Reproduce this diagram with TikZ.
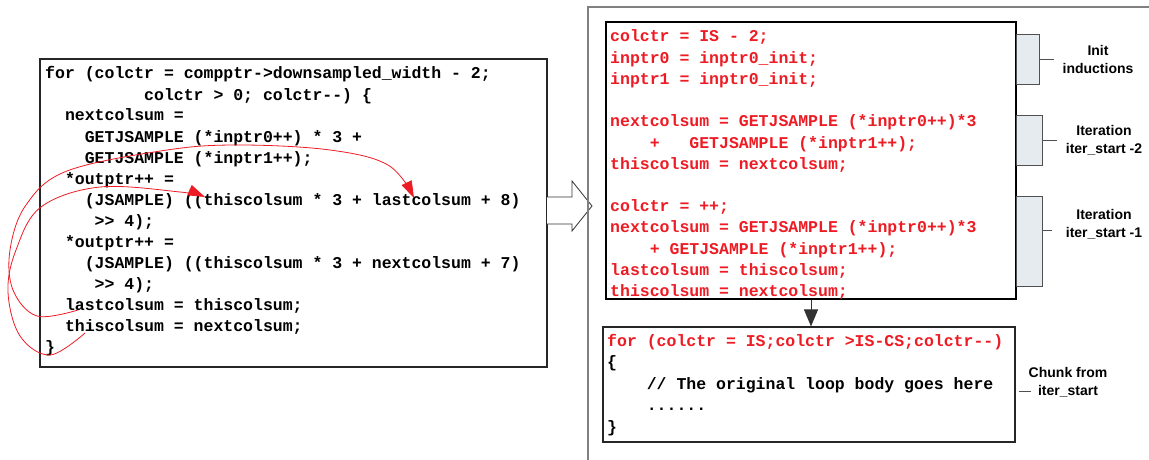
\documentclass[tikz,border=0pt]{standalone}
\usepackage{fontspec}
\setmonofont{Liberation Mono}
\setsansfont{Liberation Sans}
\usetikzlibrary{arrows.meta,calc}

\definecolor{codered}{RGB}{237,28,36}
\definecolor{framegray}{RGB}{128,128,128}
\definecolor{tabfill}{RGB}{230,235,239}
\definecolor{tabline}{RGB}{80,80,80}

\newcommand\codefont{\ttfamily\bfseries\fontsize{16.5}{21}\selectfont}
\newcommand\notefont{\sffamily\bfseries\fontsize{14}{18}\selectfont}

\begin{document}
\begin{tikzpicture}[x=1pt,y=-1pt,
  codeline/.style={anchor=base west, inner sep=0pt, font=\codefont, text=black},
  redline/.style={codeline, text=codered},
  box/.style={draw=black!85, line width=1.1pt, inner sep=0pt},
  tab/.style={draw=tabline, fill=tabfill, line width=0.9pt, inner sep=0pt},
  note/.style={font=\notefont, align=center, inner sep=2pt},
  tickmark/.style={draw=tabline, line width=0.9pt},
  loopback/.style={draw=codered, line width=0.8pt, -{Triangle[length=17pt,width=11pt]}},
]
\useasboundingbox (0,0) rectangle (1149,460);

% ---- original loop -------------------------------------------------
\node[box, minimum width=507pt, minimum height=308pt] (src) at (293.5,213) {};
\node[codeline] (s1)  at (45,79)  {for (colctr = compptr->downsampled\_width - 2;};
\node[codeline] (s2)  at (45,100) {~~~~~~~~~~colctr > 0; colctr-{}-) \{};
\node[codeline] (s3)  at (45,121) {~~nextcolsum =};
\node[codeline] (s4)  at (45,142) {~~~~GETJSAMPLE (*inptr0++) * 3 +};
\node[codeline] (s5)  at (45,163) {~~~~GETJSAMPLE (*inptr1++);};
\node[codeline] (s6)  at (45,184) {~~*outptr++ =};
\node[codeline] (s7)  at (45,205) {~~~~(JSAMPLE) ((thiscolsum * 3 + lastcolsum + 8)};
\node[codeline] (s8)  at (45,226) {~~~~~>{}> 4);};
\node[codeline] (s9)  at (45,247) {~~*outptr++ =};
\node[codeline] (s10) at (45,268) {~~~~(JSAMPLE) ((thiscolsum * 3 + nextcolsum + 7)};
\node[codeline] (s11) at (45,289) {~~~~~>{}> 4);};
\node[codeline] (s12) at (45,310) {~~lastcolsum = thiscolsum;};
\node[codeline] (s13) at (45,331) {~~thiscolsum = nextcolsum;};
\node[codeline] (s14) at (45,352) {\}};

% loop-carried value flow
\coordinate (lastSrc) at (78,310);
\coordinate (lastDst) at (414,198);
\coordinate (thisSrc) at (85,333);
\coordinate (thisDst) at (205,197);
\draw[loopback] plot[smooth, tension=0.6] coordinates
  {(lastSrc) (37,316) (13,290) (10,250) (26,205) (67,171) (167,150) (240,145) (330,150) (388,165) (lastDst)};
\draw[loopback] plot[smooth, tension=0.6] coordinates
  {(thisSrc) (50,355) (20,336) (8,292) (16,250) (41,207) (100,187) (180,192) (thisDst)};

% ---- transformation arrow ------------------------------------------
\draw[draw=black!80, fill=white, line width=0.8pt]
  (547,197) -- (572,197) -- (572,181) -- (592,206) -- (572,231) -- (572,224) -- (547,224);

% ---- transformed chunk ---------------------------------------------
\draw[framegray, line width=1.5pt] (588,460) -- (588,7) -- (1149,7);

\node[box, draw=black, minimum width=410pt, minimum height=277pt] (pro) at (811,160.5) {};
\node[redline] (p1)  at (610,42)    {colctr = IS - 2;};
\node[redline] (p2)  at (610,63.2)  {inptr0 = inptr0\_init;};
\node[redline] (p3)  at (610,84.4)  {inptr1 = inptr0\_init;};
\node[redline] (p4)  at (610,126.8) {nextcolsum = GETJSAMPLE (*inptr0++)*3};
\node[redline] (p5)  at (610,148)   {~~~~+~~~GETJSAMPLE (*inptr1++);};
\node[redline] (p6)  at (610,169.2) {thiscolsum = nextcolsum;};
\node[redline] (p7)  at (610,211.6) {colctr = ++;};
\node[redline] (p8)  at (610,232.8) {nextcolsum = GETJSAMPLE (*inptr0++)*3};
\node[redline] (p9)  at (610,254)   {~~~~+ GETJSAMPLE (*inptr1++);};
\node[redline] (p10) at (610,275.2) {lastcolsum = thiscolsum;};
\node[redline] (p11) at (610,296.4) {thiscolsum = nextcolsum;};

\node[box, minimum width=412pt, minimum height=115pt] (chunk) at (809,384.5) {};
\node[redline]  (c1) at (607,346)   {for (colctr = IS;colctr >IS-CS;colctr-{}-)};
\node[codeline] (c2) at (607,367.5) {\{};
\node[codeline] (c3) at (607,389)   {~~~~// The original loop body goes here};
\node[codeline] (c4) at (607,410.5) {~~~~......};
\node[codeline] (c5) at (607,432)   {\}};

\draw[black!80, line width=1pt, -{Triangle[length=17pt,width=14pt]}]
  (pro.south) -- (pro.south |- chunk.north);

% ---- side annotations ----------------------------------------------
\node[tab, minimum width=23pt, minimum height=50pt] (t1) at (1027.5,59) {};
\node[tab, minimum width=26pt, minimum height=50pt] (t2) at (1029,140) {};
\node[tab, minimum width=26pt, minimum height=90pt] (t3) at (1029,241) {};

\node[note] (n1) at (1098,59)  {Init\\inductions};
\node[note] (n2) at (1104,140) {Iteration\\iter\_start -2};
\node[note] (n3) at (1104,224) {Iteration\\iter\_start -1};
\node[note] (n4) at (1068,382) {Chunk from\\iter\_start};

\draw[tickmark, shorten >=6pt] (t1.east) -- (n1.west);
\draw[tickmark, shorten >=7pt] (t2.east) -- (n2.west);
\draw[tickmark] ([yshift=11pt]t3.east) -- ++(10,0);
\draw[tickmark] ([xshift=3pt,yshift=-6.5pt]chunk.east) -- ++(12,0);
\end{tikzpicture}
\end{document}
